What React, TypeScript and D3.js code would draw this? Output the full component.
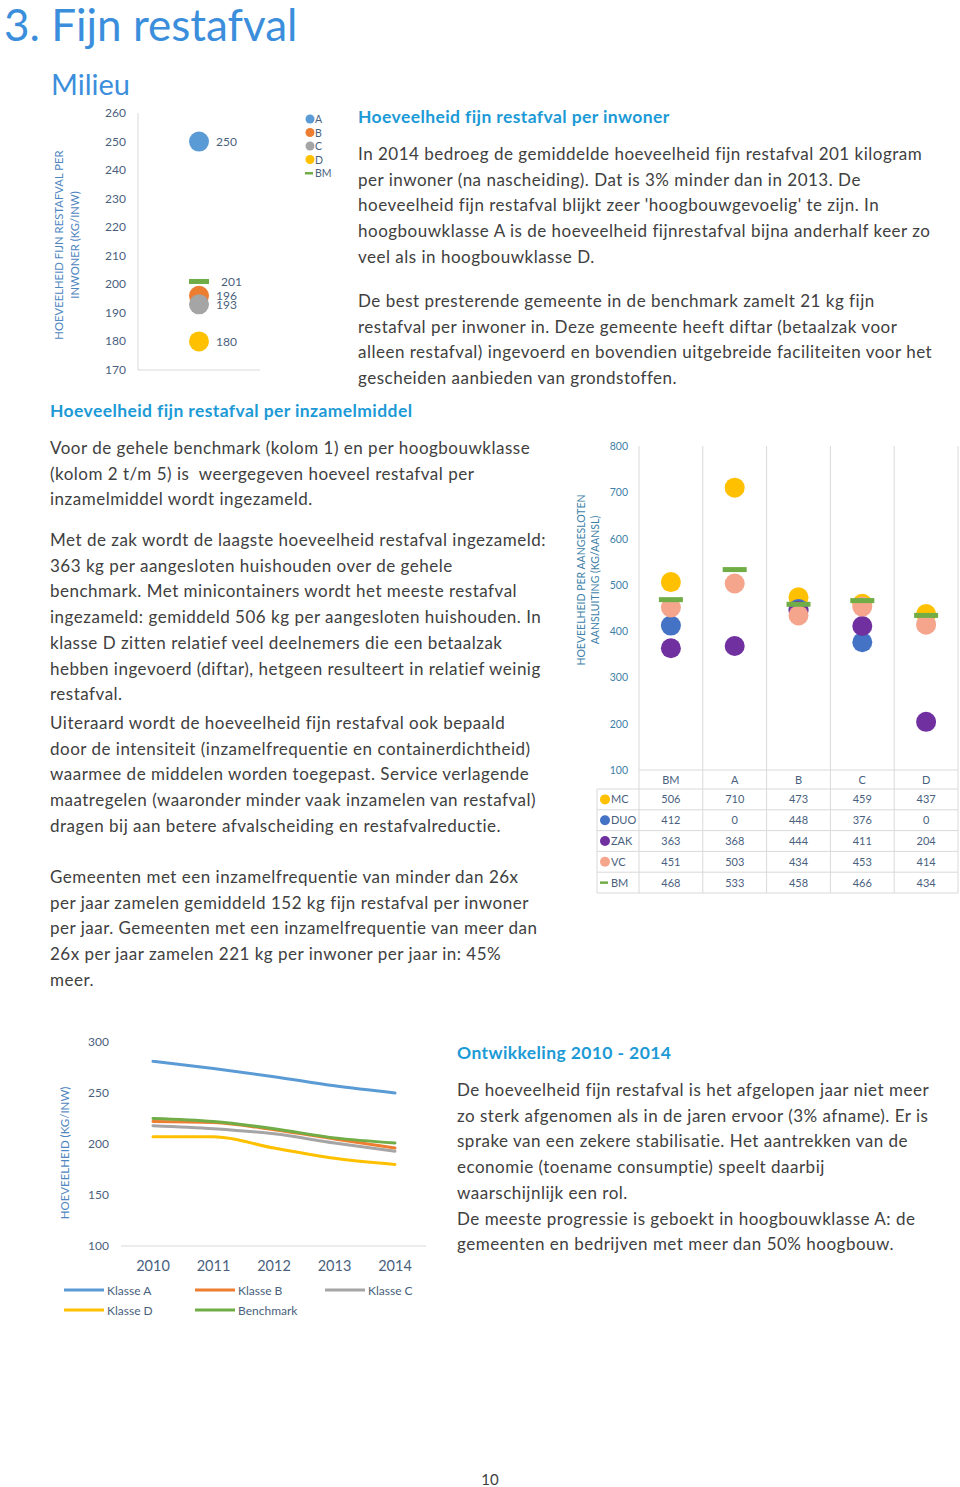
import React from "react";
import * as d3 from "d3";

// ---------- DATA ----------
const classes1 = ["A", "B", "C", "D"];
const classValues1 = [250, 196, 193, 180];
const bmValue1 = 201;
const ticks1 = [170, 180, 190, 200, 210, 220, 230, 240, 250, 260];

const categories2 = ["BM", "A", "B", "C", "D"];
const seriesNames2 = ["MC", "DUO", "ZAK", "VC", "BM"];
const mcValues = [506, 710, 473, 459, 437];
const duoValues = [412, 0, 448, 376, 0];
const zakValues = [363, 368, 444, 411, 204];
const vcValues = [451, 503, 434, 453, 414];
const bmValues2 = [468, 533, 458, 466, 434];
const ticks2 = [100, 200, 300, 400, 500, 600, 700, 800];

const years = ["2010", "2011", "2012", "2013", "2014"];
const klasseA = [281, 274, 266, 257, 250];
const klasseB = [222, 221, 214, 205, 196];
const klasseC = [218, 215, 210, 201, 193];
const klasseD = [207, 207, 196, 186, 180];
const benchmark = [225, 222, 215, 206, 201];
const lineNames = ["Klasse A", "Klasse B", "Klasse C", "Klasse D", "Benchmark"];
const ticks3 = [100, 150, 200, 250, 300];

const para1 = [
  "In 2014 bedroeg de gemiddelde hoeveelheid fijn restafval 201 kilogram",
  "per inwoner (na nascheiding). Dat is 3% minder dan in 2013. De",
  "hoeveelheid fijn restafval blijkt zeer 'hoogbouwgevoelig' te zijn. In",
  "hoogbouwklasse A is de hoeveelheid fijnrestafval bijna anderhalf keer zo",
  "veel als in hoogbouwklasse D.",
];
const para2 = [
  "De best presterende gemeente in de benchmark zamelt 21 kg fijn",
  "restafval per inwoner in. Deze gemeente heeft diftar (betaalzak voor",
  "alleen restafval) ingevoerd en bovendien uitgebreide faciliteiten voor het",
  "gescheiden aanbieden van grondstoffen.",
];
const para3 = [
  "Voor de gehele benchmark (kolom 1) en per hoogbouwklasse",
  "(kolom 2 t/m 5) is  weergegeven hoeveel restafval per",
  "inzamelmiddel wordt ingezameld.",
];
const para4 = [
  "Met de zak wordt de laagste hoeveelheid restafval ingezameld:",
  "363 kg per aangesloten huishouden over de gehele",
  "benchmark. Met minicontainers wordt het meeste restafval",
  "ingezameld: gemiddeld 506 kg per aangesloten huishouden. In",
  "klasse D zitten relatief veel deelnemers die een betaalzak",
  "hebben ingevoerd (diftar), hetgeen resulteert in relatief weinig",
  "restafval.",
];
const para5 = [
  "Uiteraard wordt de hoeveelheid fijn restafval ook bepaald",
  "door de intensiteit (inzamelfrequentie en containerdichtheid)",
  "waarmee de middelen worden toegepast. Service verlagende",
  "maatregelen (waaronder minder vaak inzamelen van restafval)",
  "dragen bij aan betere afvalscheiding en restafvalreductie.",
];
const para6 = [
  "Gemeenten met een inzamelfrequentie van minder dan 26x",
  "per jaar zamelen gemiddeld 152 kg fijn restafval per inwoner",
  "per jaar. Gemeenten met een inzamelfrequentie van meer dan",
  "26x per jaar zamelen 221 kg per inwoner per jaar in: 45%",
  "meer.",
];
const para7 = [
  "De hoeveelheid fijn restafval is het afgelopen jaar niet meer",
  "zo sterk afgenomen als in de jaren ervoor (3% afname). Er is",
  "sprake van een zekere stabilisatie. Het aantrekken van de",
  "economie (toename consumptie) speelt daarbij",
  "waarschijnlijk een rol.",
  "De meeste progressie is geboekt in hoogbouwklasse A: de",
  "gemeenten en bedrijven met meer dan 50% hoogbouw.",
];

// ---------- STYLE ----------
const FONT = "Lato, 'Open Sans', sans-serif";
const BODY = "#404040";
const HEAD = "#1c9ad6";
const TITLE = "#3b8edb";
const AXIS_TXT = "#4a5f7e";
const AXIS_TITLE = "#4f86c0";
const GRID = "#d9d9d9";
const classColors = ["#5b9bd5", "#ed7d31", "#a5a5a5", "#ffc000"];
const GREEN = "#70ad47";
const series2Colors = ["#ffc000", "#4472c4", "#7030a0", "#f4a58c", GREEN];
const lineColors = ["#5b9bd5", "#ed7d31", "#a5a5a5", "#ffc000", "#70ad47"];

const LH = 25.7;
const NOLIG = { whiteSpace: "pre" as const, fontVariantLigatures: "none" as const };

function Para({ lines, x, y }: { lines: string[]; x: number; y: number }) {
  return (
    <g>
      {lines.map((l, i) => (
        <text key={i} x={x} y={y + i * LH} fontSize={17} letterSpacing={0.5} fill={BODY} fontFamily={FONT} style={NOLIG}>
          {l}
        </text>
      ))}
    </g>
  );
}

function Heading({ x, y, children }: { x: number; y: number; children: React.ReactNode }) {
  return (
    <text x={x} y={y} fontSize={17.5} letterSpacing={0.4} fontWeight={700} fill={HEAD} fontFamily={FONT} style={NOLIG}>
      {children}
    </text>
  );
}

function Chart1() {
  const y = d3.scaleLinear().domain([170, 260]).range([370, 113]);
  const cx = 199;
  return (
    <g fontFamily={FONT}>
      <line x1={138} x2={138} y1={113} y2={370} stroke={GRID} />
      <line x1={138} x2={260} y1={370} y2={370} stroke={GRID} />
      {ticks1.map((t) => (
        <text key={t} x={126} y={y(t) + 4} textAnchor="end" fontSize={12} fill={AXIS_TXT}>
          {t}
        </text>
      ))}
      <text transform={`translate(63,245) rotate(-90)`} textAnchor="middle" fontSize={11.3} fill={AXIS_TITLE}>
        HOEVEELHEID FIJN RESTAFVAL PER
      </text>
      <text transform={`translate(79,245) rotate(-90)`} textAnchor="middle" fontSize={11.3} fill={AXIS_TITLE}>
        INWONER (KG/INW)
      </text>
      {classValues1.map((v, i) => (
        <circle key={i} cx={cx} cy={y(v)} r={10} fill={classColors[i]} />
      ))}
      <rect x={cx - 10} y={y(bmValue1) - 2.5} width={20} height={5} fill={GREEN} />
      {classValues1.map((v, i) => (
        <text key={i} x={216} y={y(v) + 4.5} fontSize={12} fill={AXIS_TXT}>
          {v}
        </text>
      ))}
      <text x={221} y={y(bmValue1) + 4.5} fontSize={12} fill={AXIS_TXT}>
        {bmValue1}
      </text>
      {classes1.map((c, i) => (
        <g key={c}>
          <circle cx={310} cy={119 + i * 13.5} r={4.5} fill={classColors[i]} />
          <text x={315} y={123 + i * 13.5} fontSize={10.5} fill={AXIS_TXT}>
            {c}
          </text>
        </g>
      ))}
      <rect x={305} y={172} width={8} height={2.5} fill={GREEN} />
      <text x={315} y={177} fontSize={10.5} fill={AXIS_TXT}>
        BM
      </text>
    </g>
  );
}

function Chart2() {
  const y = d3.scaleLinear().domain([100, 800]).range([770, 446]);
  const x = d3.scaleBand().domain(categories2).range([639, 958]);
  const bw = x.bandwidth();
  const all = [mcValues, duoValues, zakValues, vcValues, bmValues2];
  const rowTop = 789;
  const rowH = 20.8;
  return (
    <g fontFamily={FONT}>
      {[...categories2.map((c) => x(c)!), 958].map((gx, i) => (
        <line key={i} x1={gx} x2={gx} y1={446} y2={893} stroke={GRID} />
      ))}
      {ticks2.map((t) => (
        <text key={t} x={628} y={y(t) + 4} textAnchor="end" fontSize={10.5} fill={"#3d7fa8"}>
          {t}
        </text>
      ))}
      <text transform={`translate(585,580) rotate(-90)`} textAnchor="middle" fontSize={10.5} fill={"#3d7fa8"}>
        HOEVEELHEID PER AANGESLOTEN
      </text>
      <text transform={`translate(599,580) rotate(-90)`} textAnchor="middle" fontSize={10.5} fill={"#3d7fa8"}>
        AANSLUITING (KG/AANSL)
      </text>
      {all.slice(0, 4).map((vals, si) =>
        vals.map((v, ci) =>
          v >= 100 ? (
            <circle key={`${si}-${ci}`} cx={x(categories2[ci])! + bw / 2} cy={y(v)} r={10} fill={series2Colors[si]} />
          ) : null
        )
      )}
      {bmValues2.map((v, ci) => (
        <rect key={ci} x={x(categories2[ci])! + bw / 2 - 12} y={y(v) - 2.5} width={24} height={5} fill={GREEN} />
      ))}
      {/* table */}
      <line x1={639} x2={958} y1={770} y2={770} stroke={GRID} />
      {d3.range(6).map((i) => (
        <line key={i} x1={597} x2={958} y1={rowTop + i * rowH} y2={rowTop + i * rowH} stroke={GRID} />
      ))}
      <line x1={597} x2={597} y1={rowTop} y2={rowTop + 5 * rowH} stroke={GRID} />
      {categories2.map((c) => (
        <text key={c} x={x(c)! + bw / 2} y={783.5} textAnchor="middle" fontSize={11} fill={AXIS_TXT}>
          {c}
        </text>
      ))}
      {all.map((vals, si) => (
        <g key={si}>
          {si < 4 ? (
            <circle cx={605} cy={rowTop + si * rowH + rowH / 2} r={5} fill={series2Colors[si]} />
          ) : (
            <rect x={600} y={rowTop + si * rowH + rowH / 2 - 1.2} width={8} height={2.5} fill={GREEN} />
          )}
          <text x={611} y={rowTop + si * rowH + rowH / 2 + 4} fontSize={11} fill={AXIS_TXT}>
            {seriesNames2[si]}
          </text>
          {vals.map((v, ci) => (
            <text key={ci} x={x(categories2[ci])! + bw / 2} y={rowTop + si * rowH + rowH / 2 + 4} textAnchor="middle" fontSize={11} fill={AXIS_TXT}>
              {v}
            </text>
          ))}
        </g>
      ))}
    </g>
  );
}

function Chart3() {
  const y = d3.scaleLinear().domain([100, 300]).range([1246, 1042]);
  const x = d3.scalePoint().domain(years).range([153, 395]);
  const series = [klasseA, klasseB, klasseC, klasseD, benchmark];
  const line = d3
    .line<number>()
    .x((_, i) => x(years[i])!)
    .y((d) => y(d))
    .curve(d3.curveMonotoneX);
  const legendPos = [
    [64, 1290],
    [195, 1290],
    [325, 1290],
    [64, 1310],
    [195, 1310],
  ];
  return (
    <g fontFamily={FONT}>
      <line x1={121} x2={426} y1={1246} y2={1246} stroke={GRID} />
      {ticks3.map((t) => (
        <text key={t} x={109} y={y(t) + 4} textAnchor="end" fontSize={12} fill={AXIS_TXT}>
          {t}
        </text>
      ))}
      {years.map((yr) => (
        <text key={yr} x={x(yr)} y={1271} textAnchor="middle" fontSize={14.5} fill={AXIS_TXT}>
          {yr}
        </text>
      ))}
      <text transform={`translate(69,1153) rotate(-90)`} textAnchor="middle" fontSize={11.5} fill={AXIS_TITLE}>
        HOEVEELHEID (KG/INW)
      </text>
      {[0, 2, 1, 3, 4].map((si) => (
        <path key={si} d={line(series[si]) || ""} fill="none" stroke={lineColors[si]} strokeWidth={3} strokeLinecap="round" />
      ))}
      {lineNames.map((n, i) => (
        <g key={n}>
          <line x1={legendPos[i][0]} x2={legendPos[i][0] + 40} y1={legendPos[i][1]} y2={legendPos[i][1]} stroke={lineColors[i]} strokeWidth={3} />
          <text x={legendPos[i][0] + 43} y={legendPos[i][1] + 4.5} fontSize={12} fill={AXIS_TXT}>
            {n}
          </text>
        </g>
      ))}
    </g>
  );
}

export default function App() {
  return (
    <div style={{ position: "absolute", left: 0, top: 0 }}>
      <svg width={960} height={1487} viewBox="0 0 960 1487" style={{ display: "block", background: "#fff" }}>
        <text x={4} y={41} fontSize={44} fill={TITLE} fontFamily={FONT} style={NOLIG}>
          3. Fijn restafval
        </text>
        <text x={51} y={95} fontSize={29} fill={TITLE} fontFamily={FONT}>
          Milieu
        </text>
        <Heading x={358} y={123}>Hoeveelheid fijn restafval per inwoner</Heading>
        <Para lines={para1} x={358} y={160} />
        <Para lines={para2} x={358} y={307} />
        <Heading x={50} y={417}>Hoeveelheid fijn restafval per inzamelmiddel</Heading>
        <Para lines={para3} x={50} y={454} />
        <Para lines={para4} x={50} y={546} />
        <Para lines={para5} x={50} y={729} />
        <Para lines={para6} x={50} y={883} />
        <Heading x={457} y={1059}>Ontwikkeling 2010 - 2014</Heading>
        <Para lines={para7} x={457} y={1096} />
        <text x={490} y={1485} textAnchor="middle" fontSize={15} fill={BODY} fontFamily={FONT}>
          10
        </text>
        <Chart1 />
        <Chart2 />
        <Chart3 />
      </svg>
    </div>
  );
}
